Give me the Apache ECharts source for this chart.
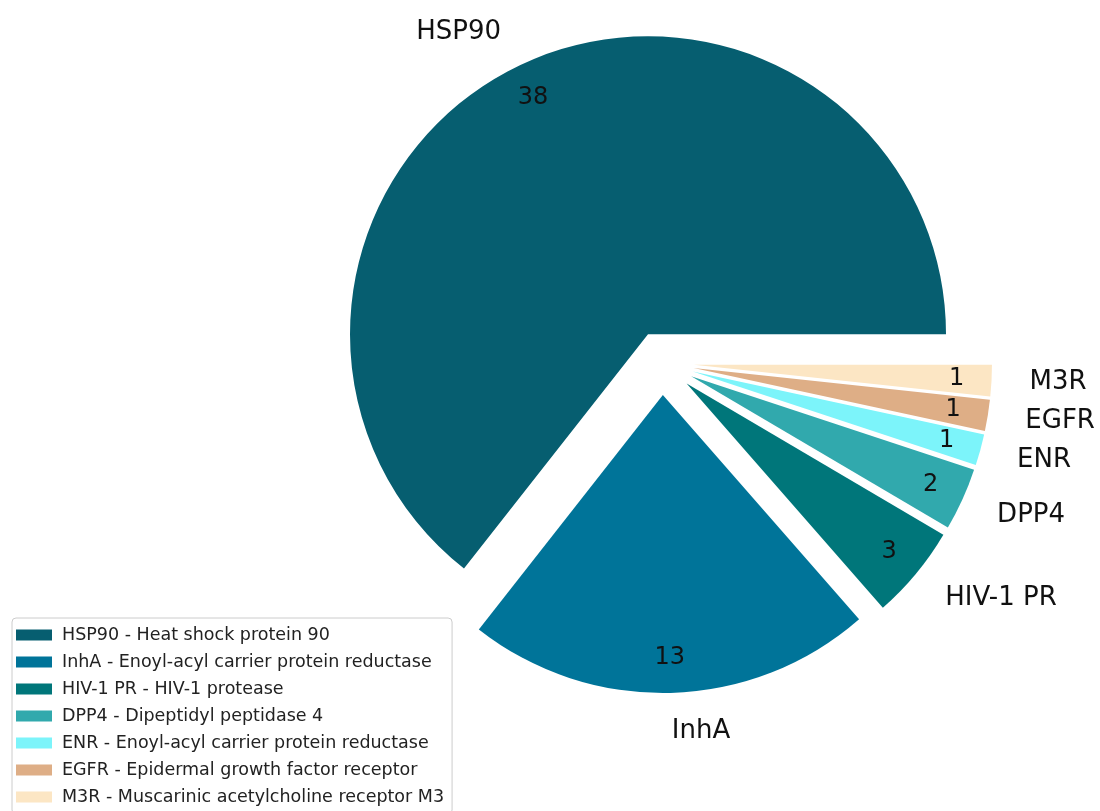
<!DOCTYPE html>
<html>
<head>
<meta charset="utf-8">
<script src="https://cdn.jsdelivr.net/npm/echarts@6/dist/echarts.min.js"></script>
<style>
  html, body { margin: 0; padding: 0; background: #fff; }
  #Pie { width: 1100px; height: 811px; }
</style>
</head>
<body>
<div id="Pie"></div>
<script>
// targets and how many compounds hit each one
var categories = ['HSP90', 'InhA', 'HIV-1 PR', 'DPP4', 'ENR', 'EGFR', 'M3R'];
var descriptions = [
    'Heat shock protein 90',
    'Enoyl-acyl carrier protein reductase',
    'HIV-1 protease',
    'Dipeptidyl peptidase 4',
    'Enoyl-acyl carrier protein reductase',
    'Epidermal growth factor receptor',
    'Muscarinic acetylcholine receptor M3'
];
var counts = [38, 13, 3, 2, 1, 1, 1];

var palette = ['#065e70', '#007499', '#00767a', '#31a9ad', '#7cf4fa', '#deae86', '#fce6c4'];

var domPie = document.getElementById('Pie');
var myChartPie = echarts.init(domPie);

var pieData = categories.map(function (name, i) {
    return { name: name, value: counts[i], selected: true };
});

var font = 'DejaVu Sans';

var optionPie = {
    animation: false,
    color: palette,
    legend: {
        orient: 'vertical',
        left: 12,
        top: 618,
        height: 200,
        padding: [8, 8, 8, 4],
        itemWidth: 36,
        itemHeight: 11,
        itemGap: 9,
        icon: 'rect',
        backgroundColor: '#fff',
        borderColor: '#cccccc',
        borderWidth: 1,
        borderRadius: 4,
        selectedMode: false,
        textStyle: {
            fontFamily: font,
            fontSize: 17.5,
            lineHeight: 17,
            padding: [0, 0, 0, 5],
            color: '#222'
        },
        data: categories,
        formatter: function (name) {
            return name + ' - ' + descriptions[categories.indexOf(name)];
        }
    },
    series: [{
            name: 'targets',
            type: 'pie',
            left: 0,
            top: 0,
            width: 1400,
            height: 811,
            center: [662, 363],
            radius: [0, 298],
            startAngle: 0,
            clockwise: false,
            selectedMode: 'multiple',
            selectedOffset: 32,
            avoidLabelOverlap: false,
            label: {
                show: true,
                position: 'outside',
                formatter: '{b}',
                fontFamily: font,
                fontSize: 26,
                color: '#111',
                overflow: 'none',
                distanceToLabelLine: 0,
                bleedMargin: 0
            },
            labelLine: { show: false, length: 38, length2: 0 },
            itemStyle: { borderWidth: 0 },
            emphasis: { disabled: true },
            data: pieData
        },
        {
            name: 'counts',
            type: 'pie',
            silent: true,
            left: 0,
            top: 0,
            width: 1400,
            height: 811,
            center: [662, 363],
            radius: [222, 298],
            startAngle: 0,
            clockwise: false,
            selectedMode: 'multiple',
            selectedOffset: 32,
            avoidLabelOverlap: false,
            label: {
                show: true,
                position: 'inside',
                formatter: '{c}',
                fontFamily: font,
                fontSize: 24,
                color: '#111'
            },
            labelLine: { show: false },
            itemStyle: { color: 'rgba(0,0,0,0)', borderWidth: 0 },
            emphasis: { disabled: true },
            data: pieData
        }
    ]
};

if (optionPie && typeof optionPie === 'object') {
    myChartPie.setOption(optionPie, true);
}
</script>
</body>
</html>
